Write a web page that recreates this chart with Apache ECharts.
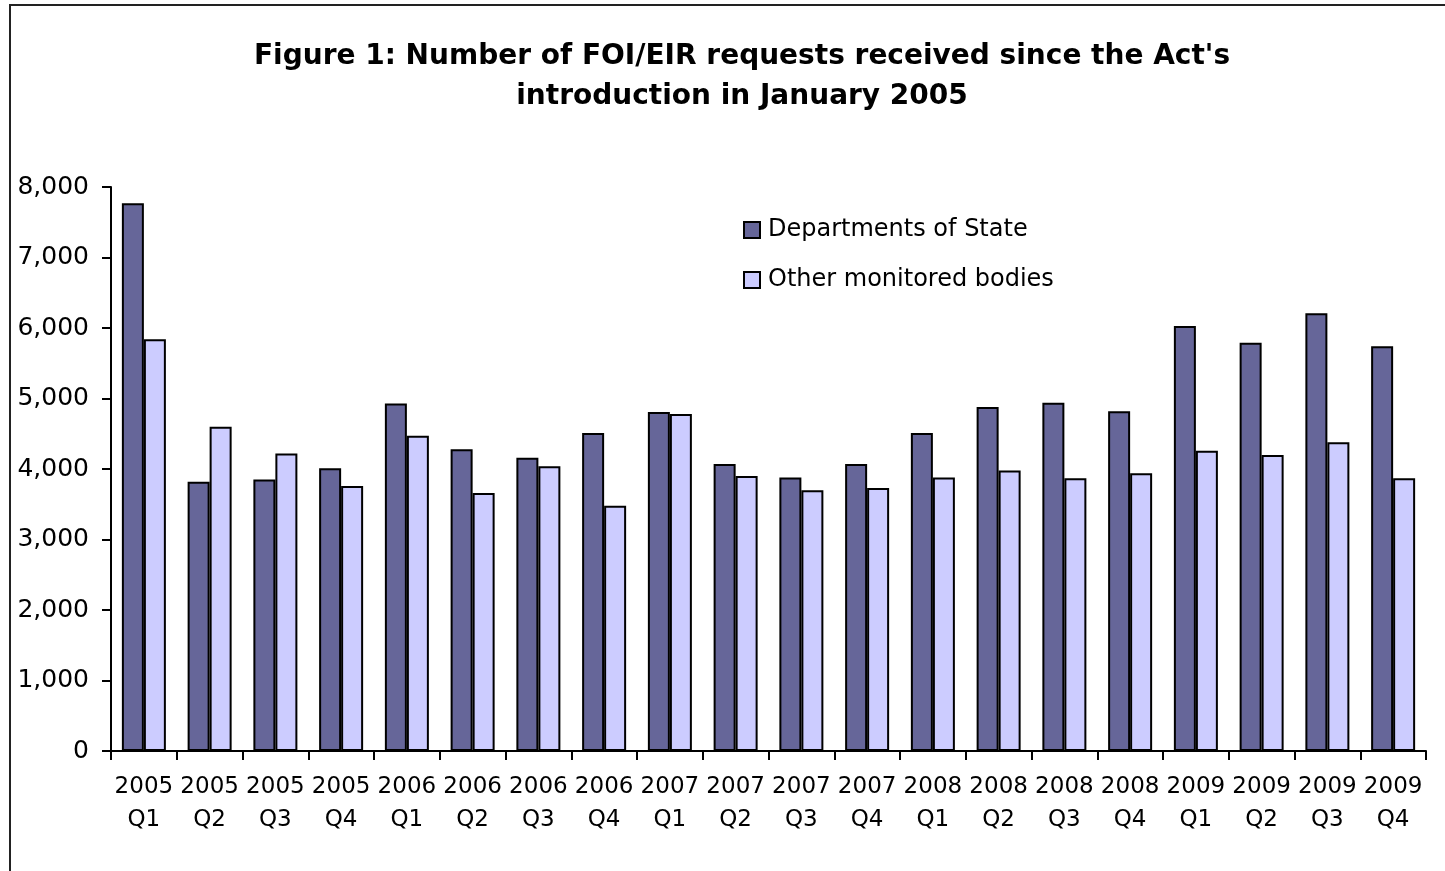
<!DOCTYPE html>
<html>
<head>
<meta charset="utf-8">
<script src="https://cdn.jsdelivr.net/npm/echarts@6/dist/echarts.min.js"></script>
<style>
html,body{margin:0;padding:0;background:#fff;}
#chart{width:1445px;height:871px;}
</style>
</head>
<body>
<div id="chart"></div>
<script>
const categories = [
  '2005\nQ1','2005\nQ2','2005\nQ3','2005\nQ4',
  '2006\nQ1','2006\nQ2','2006\nQ3','2006\nQ4',
  '2007\nQ1','2007\nQ2','2007\nQ3','2007\nQ4',
  '2008\nQ1','2008\nQ2','2008\nQ3','2008\nQ4',
  '2009\nQ1','2009\nQ2','2009\nQ3','2009\nQ4'
];
const departmentsOfState = [7770,3820,3850,4010,4930,4280,4160,4510,4810,4070,3880,4070,4510,4880,4940,4820,6030,5790,6210,5740];
const otherMonitoredBodies = [5840,4600,4220,3760,4470,3660,4040,3480,4780,3900,3700,3730,3880,3980,3870,3940,4260,4200,4380,3870];
const seriesNames = ['Departments of State','Other monitored bodies'];
const titleText = "Figure 1: Number of FOI/EIR requests received since the Act's\nintroduction in January 2005";

const FONT = '"DejaVu Sans", "Liberation Sans", Arial, sans-serif';
const chart = echarts.init(document.getElementById('chart'));
chart.setOption({
  backgroundColor: '#ffffff',
  animation: false,
  graphic: [{
    type: 'rect',
    shape: {x: 10, y: 5, width: 1460, height: 900},
    style: {fill: 'none', stroke: '#222', lineWidth: 2},
    silent: true
  }],
  title: {
    text: titleText,
    left: 737,
    textAlign: 'center',
    top: 32,
    textStyle: {fontFamily: FONT, fontWeight: 'bold', fontSize: 28, lineHeight: 40, color: '#000'}
  },
  legend: {
    orient: 'vertical',
    left: 743,
    top: 217,
    padding: 0,
    itemWidth: 16,
    itemHeight: 16,
    itemGap: 24,
    icon: 'rect',
    textStyle: {fontFamily: FONT, fontSize: 24, lineHeight: 26, color: '#000', padding: [0,0,0,3]},
    data: seriesNames
  },
  grid: {left: 111, right: 19, top: 187, bottom: 120},
  xAxis: {
    type: 'category',
    data: categories,
    axisLine: {lineStyle: {color: '#000', width: 2}},
    axisTick: {show: true, length: 9, lineStyle: {color: '#000', width: 2}},
    axisLabel: {fontFamily: FONT, fontSize: 23, lineHeight: 33, color: '#000', margin: 20, interval: 0}
  },
  yAxis: {
    type: 'value',
    min: 0, max: 8000, interval: 1000,
    axisLine: {show: true, lineStyle: {color: '#000', width: 2}},
    axisTick: {show: true, length: 9, lineStyle: {color: '#000', width: 2}},
    splitLine: {show: false},
    axisLabel: {
      fontFamily: FONT, fontSize: 25, color: '#000', margin: 22,
      formatter: v => v.toLocaleString('en-US')
    }
  },
  series: [
    {
      name: seriesNames[0], type: 'bar', data: departmentsOfState,
      barWidth: 22, barGap: '0%',
      itemStyle: {color: '#666699', borderColor: '#000', borderWidth: 2}
    },
    {
      name: seriesNames[1], type: 'bar', data: otherMonitoredBodies,
      barWidth: 22, barGap: '0%',
      itemStyle: {color: '#CCCCFF', borderColor: '#000', borderWidth: 2}
    }
  ]
});
</script>
</body>
</html>
